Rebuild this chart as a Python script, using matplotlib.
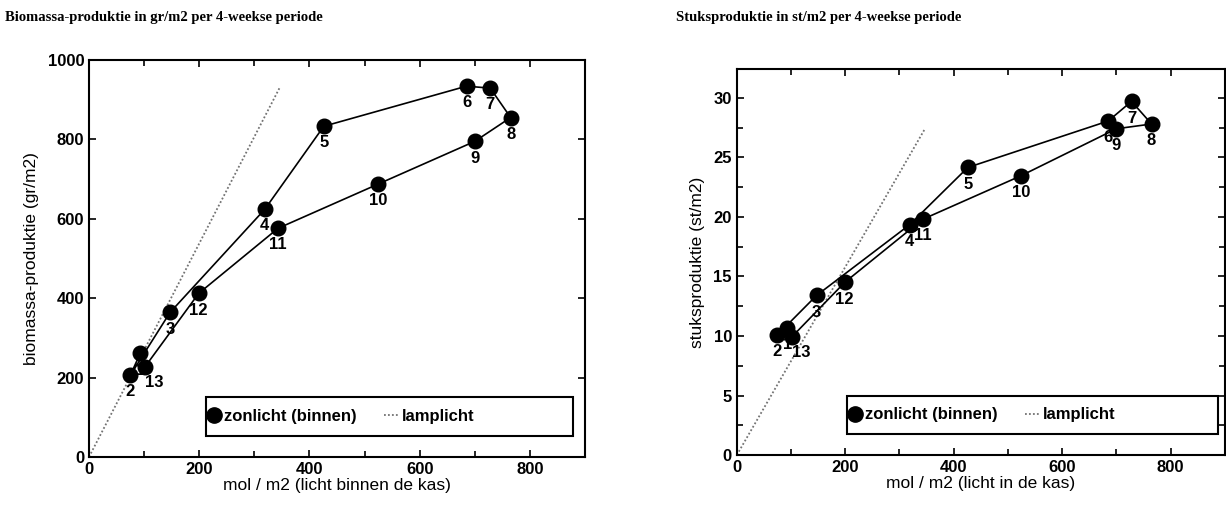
import numpy as np
import matplotlib.pyplot as plt
from matplotlib.lines import Line2D
from matplotlib.patches import Rectangle
from matplotlib.ticker import MultipleLocator

# 4-weekse perioden
perioden = [1, 2, 3, 4, 5, 6, 7, 8, 9, 10, 11, 12, 13]
licht = [93, 75, 147, 319, 426, 685, 728, 765, 700, 524, 343, 199, 101]
biomassa = [261, 206, 364, 624, 833, 934, 929, 855, 795, 687, 576, 412, 226]
stuks = [10.7, 10.1, 13.4, 19.35, 24.15, 28.05, 29.7, 27.8, 27.4, 23.45, 19.8, 14.5, 9.9]

# lamplicht referentielijn (begin- en eindpunt)
lamp_x = [0, 347]
lamp_bio = [0, 933]
lamp_stuks = [0, 27.4]

plt.rcParams['font.family'] = ['Liberation Sans', 'DejaVu Sans']

fig = plt.figure(figsize=(12.26, 5.09), dpi=100)
ax1 = fig.add_axes([0.0726, 0.1022, 0.4046, 0.780])
ax2 = fig.add_axes([0.601, 0.106, 0.398, 0.758])

# label 13 iets naar rechts zodat het niet over 2 valt
label_shift = {13: (7, -11)}


def teken(ax, y, lamp_y, ylim, ymajor, yminor, xlabel, ylabel, leg_box):
    ax.plot(lamp_x, lamp_y, color='0.45', ls=(0, (1, 1.2)), lw=1.3, zorder=1)
    ax.plot(licht, y, color='black', lw=1.2, marker='o', ms=10.5,
            markerfacecolor='black', zorder=3)
    for p, xv, yv in zip(perioden, licht, y):
        ax.annotate(str(p), (xv, yv), xytext=label_shift.get(p, (0, -12)),
                    textcoords='offset points', ha='center', va='center',
                    fontsize=12, fontweight='bold', zorder=4)
    ax.set_xlim(0, 900)
    ax.set_ylim(*ylim)
    ax.set_xticks([0, 200, 400, 600, 800])
    ax.xaxis.set_minor_locator(MultipleLocator(100))
    ax.yaxis.set_major_locator(MultipleLocator(ymajor))
    if yminor:
        ax.yaxis.set_minor_locator(MultipleLocator(yminor))
    ax.tick_params(which='both', direction='in', top=True, right=True, width=1.2)
    ax.tick_params(which='major', length=5, labelsize=12)
    ax.tick_params(which='minor', length=4)
    for lab in ax.get_xticklabels() + ax.get_yticklabels():
        lab.set_fontweight('bold')
    for s in ax.spines.values():
        s.set_linewidth(1.5)
    ax.set_xlabel(xlabel, fontsize=12.5, labelpad=1)
    ax.set_ylabel(ylabel, fontsize=12.5, labelpad=6)

    # legendakader
    x0, y0, w, h = leg_box
    ax.add_patch(Rectangle((x0, y0), w, h, transform=ax.transAxes, fill=True,
                           facecolor='white', edgecolor='black', lw=1.5, zorder=5))
    handles = [
        Line2D([], [], color='black', marker='o', ls='none', ms=11),
        Line2D([], [], color='0.45', ls=(0, (1, 1.2)), lw=1.3),
    ]
    leg = ax.legend(handles, ['zonlicht (binnen)', 'lamplicht'], ncol=2,
                    loc='center left', bbox_to_anchor=(x0, y0 + h / 2),
                    frameon=False, handlelength=0.9, handletextpad=0.2,
                    columnspacing=1.6, borderpad=0.0, borderaxespad=0.0,
                    prop={'weight': 'bold', 'size': 12})
    leg.set_zorder(6)


teken(ax1, biomassa, lamp_bio, (0, 1000), 200, None,
      'mol / m2 (licht binnen de kas)', 'biomassa-produktie (gr/m2)',
      (0.236, 0.053, 0.739, 0.098))
teken(ax2, stuks, lamp_stuks, (0, 32.4), 5, 2.5,
      'mol / m2 (licht in de kas)', 'stuksproduktie (st/m2)',
      (0.226, 0.054, 0.76, 0.10))

fig.text(0.004, 0.965, 'Biomassa-produktie in gr/m2 per 4-weekse periode',
         family=['Liberation Serif', 'DejaVu Serif'], fontweight='bold',
         fontsize=10.5, va='center')
fig.text(0.551, 0.965, 'Stuksproduktie in st/m2 per 4-weekse periode',
         family=['Liberation Serif', 'DejaVu Serif'], fontweight='bold',
         fontsize=10.5, va='center')

fig.savefig('out.png', dpi=100)
